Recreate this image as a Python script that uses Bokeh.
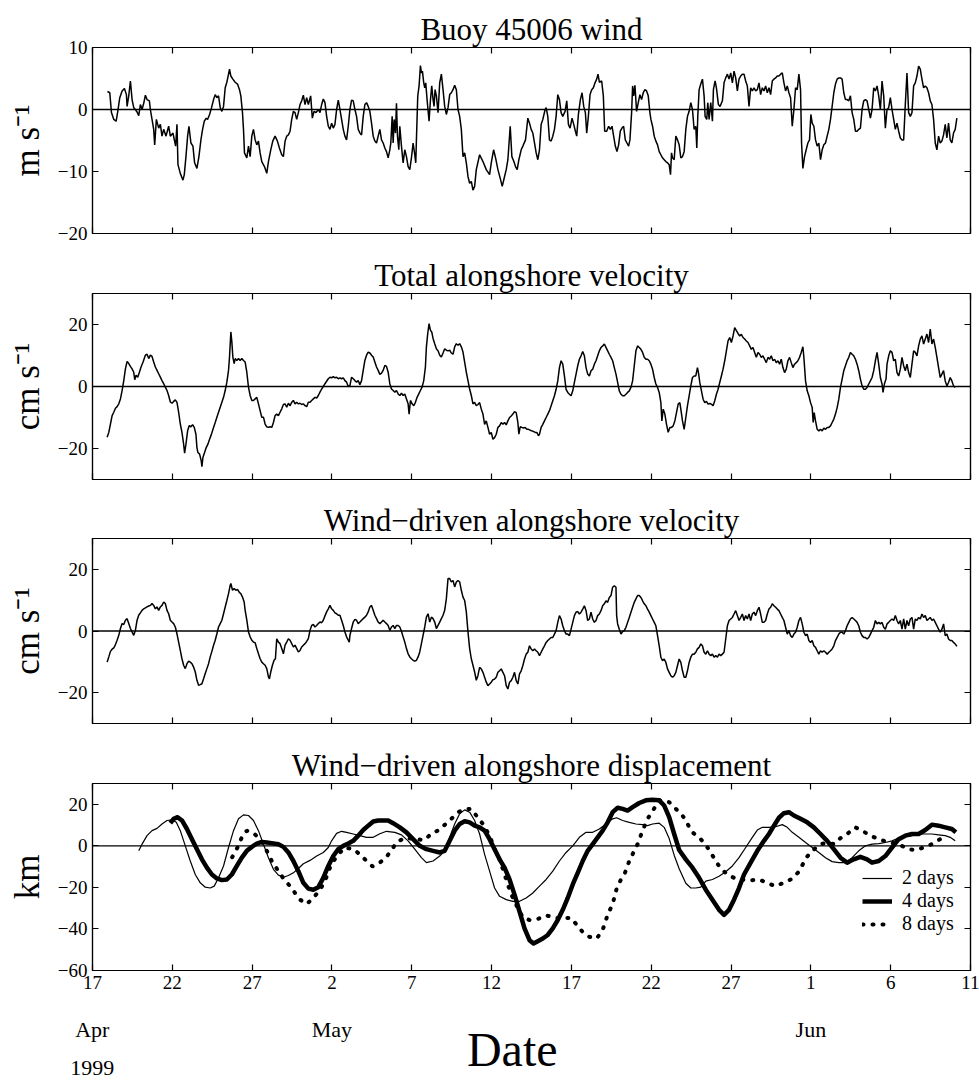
from bokeh.plotting import figure
from bokeh.models import (Range1d, LinearAxis, FixedTicker, Span, Legend,
                          LegendItem, CustomJSTickFormatter)
from bokeh.core.properties import value
from bokeh.layouts import column
from bokeh.embed import file_html
from bokeh.resources import INLINE

SERIF = "Liberation Serif"

# time axis: days since 17 Apr 1999 00:00, ticks every 5 days
day_ticks = [0, 5, 10, 15, 20, 25, 30, 35, 40, 45, 50, 55]
day_labels = ["17", "22", "27", "2", "7", "12", "17", "22", "27", "1", "6", "11"]
month_days = [0, 15, 45]
month_names = ["Apr", "May", "Jun"]
year_text = "1999"

panel_titles = ["Buoy 45006 wind", "Total alongshore velocity",
                "Wind\u2212driven alongshore velocity", "Wind\u2212driven alongshore displacement"]
panel_units = ["m s\u207b\u00b9", "cm s\u207b\u00b9", "cm s\u207b\u00b9", "km"]

# (hours since 17 Apr 00:00, value)
wind_obs = [
    (22.5, 2.9), (26, 2.7), (28.5, -0.5), (32, -1.6), (35.5, -1.9), (38, -0.3), (41, 1.9), (44.5, 3.0), (48, 3.4), (51, 2.4),
    (52, 0.5), (54.5, 2.2), (57, 4.6), (59.5, 1.6), (62, 0.3), (64.5, 0), (67, -0.4), (69.5, -1.0), (72, 0.8), (74.5, 0),
    (77, 1.0), (79.5, 2.3), (82, 1.6), (85.5, 1.4), (87, 0), (89.5, -1.6), (92, -3.2), (93.5, -5.7), (96, -1.6), (99.5, -3.0),
    (102, -2.4), (104.5, -4.3), (107, -3.2), (110.5, -4.3), (114.5, -2.7), (117, -4.3), (121, -3.8), (123, -4.9), (125, -5.9), (127, -2.4),
    (128.5, -8.9), (132, -10.3), (136, -11.4), (138, -10.5), (140.5, -7.6), (143, -4.3), (145, -2.7), (148, -5.4), (151, -5.9), (153.5, -8.6),
    (157, -9.5), (160, -7.6), (163, -4.9), (165.5, -3.2), (168, -1.9), (171, -1.4), (173, -1.6), (176, -0.8), (179, 0.3), (182, 1.6),
    (184.5, 2.4), (187, 1.9), (189.5, 2.2), (192, 0.3), (194.5, -0.3), (197, 0.5), (199.5, 3.5), (202, 4.4), (204.5, 5.7), (206, 6.5),
    (208, 5.4), (211, 4.9), (214.5, 4.4), (218, 4.1), (221, 3.2), (223, 2.2), (225.5, -0.5), (227, -3.2), (228.5, -7.0), (232, -7.8),
    (234.5, -5.9), (237, -7.6), (239.5, -4.3), (242, -3.2), (244.5, -4.9), (247, -5.7), (249.5, -5.1), (252, -7.0), (254.5, -8.4), (258.5, -9.2),
    (262, -10.3), (264.5, -8.4), (268, -6.5), (271, -5.1), (274.5, -4.3), (278, -5.1), (281, -6.2), (284.5, -7.3), (287, -7.6), (289.5, -5.1),
    (292, -4.3), (294.5, -4.1), (297, -3.5), (299.5, -1.6), (302, -0.3), (304.5, -0.5), (307, -1.6), (309.5, -0.5), (312, 0.8), (314.5, 1.4),
    (317, 2.3), (319.5, 0.8), (322, 1.9), (324.5, 0.8), (328, 2.2), (330.5, -1.4), (333, -0.3), (336, -0.5), (339.5, 0), (342, -0.5),
    (344.5, 0.8), (347, 1.7), (349.5, 1.1), (352, -1.1), (354.5, -2.7), (357, -3.2), (359.5, -2.2), (362, -3.0), (364.5, -2.4), (367, 0),
    (369.5, 1.5), (372, 0), (374.5, -1.6), (377, -3.2), (379.5, -4.3), (382, -4.9), (384.5, -2.7), (387, 0), (389.5, 1.5), (392, 1.4),
    (394.5, 0), (397, -1.1), (399.5, -3.2), (402, -3.8), (404.5, -4.1), (407, -1.1), (409.5, 0.8), (412, 1.1), (414.5, 0.5), (417, -0.3),
    (419.5, -2.2), (422, -4.3), (424.5, -5.1), (427, -5.4), (429.5, -4.3), (432, -3.2), (434.5, -4.9), (437, -5.4), (439.5, -6.2), (442, -6.8),
    (444.5, -7.8), (447, -6.5), (448.5, -5.4), (450.5, -1.1), (452, -5.4), (453.5, -1.6), (455.5, -3.8), (457, 1.0), (458.5, -4.3), (460.5, -6.5),
    (462, -2.7), (464.5, -5.9), (467, -8.6), (469.5, -6.5), (472, -7.6), (474.5, -9.2), (477, -9.7), (479.5, -7.8), (482, -5.4), (484.5, -7.3),
    (486, -8.6), (487, -4.9), (489, 2.2), (491, 3.8), (493, 7.1), (494.5, 5.9), (496, 6.2), (498, 4.3), (499.5, 3.5), (501, 4.3),
    (503, 1.6), (506, -1.9), (508, 1.4), (510, 3.8), (512, 1.6), (513.5, 0.5), (515, 3.2), (517, 2.2), (519.5, -0.5), (522, 4.3),
    (524.5, 5.7), (527, 3.2), (529.5, 0.5), (532, -0.8), (534.5, 0.3), (537, 2.4), (539.5, 2.7), (542, 3.2), (544.5, 3.9), (547, 3.2),
    (549.5, 0), (552, -1.1), (554.5, -3.2), (557, -7.6), (559.5, -7.0), (562, -8.6), (564.5, -10.8), (567, -11.9), (569.5, -11.6), (572, -13.0),
    (574.5, -12.4), (577, -9.7), (582, -7.3), (587, -8.4), (592, -9.7), (597, -10.5), (599.5, -8.6), (603, -6.5), (606, -7.8), (609.5, -9.7),
    (613, -11.1), (616, -12.4), (619.5, -10.8), (622, -9.7), (624.5, -8.1), (628, -2.7), (630.5, -7.6), (633.5, -8.4), (636, -9.2), (638.5, -9.7),
    (641, -8.1), (644.5, -6.5), (647, -5.9), (651, -4.9), (654.5, -1.4), (657, -2.2), (659.5, -3.2), (662, -3.8), (664.5, -5.4), (667, -7.0),
    (669.5, -8.1), (672, -6.5), (674.5, -2.4), (677, -1.6), (680.5, 0), (682, 0.3), (684.5, -1.1), (687, -4.9), (689.5, -5.1), (692, -4.3),
    (694.5, -3.2), (697, -1.1), (699.5, 2.4), (702, 1.6), (704.5, -0.5), (707, -1.1), (710.5, -0.3), (713, 1.4), (715.5, -2.4), (718, -3.0),
    (721, -1.4), (723.5, -2.4), (726, -3.5), (728, -4.3), (730.5, -0.8), (733.5, 1.6), (736, 2.7), (738.5, 0.5), (741, -0.5), (743, -3.8),
    (745.5, -1.1), (748, 2.4), (750.5, 3.2), (753, 3.5), (755.5, 4.3), (758, 4.9), (760, 5.7), (762, 4.4), (765.5, 4.6), (768, 2.2),
    (770, -3.5), (773, -3.5), (776, -2.7), (778.5, -3.2), (781, -2.7), (783.5, -4.3), (786, -5.9), (788.5, -6.8), (791, -5.7), (793.5, -3.5),
    (796, -3.0), (798.5, -2.7), (801, -4.9), (803.5, -5.4), (806, -5.9), (808, -4.9), (810.5, -0.5), (812, 3.8), (813.5, 2.2), (815.5, 3.9),
    (818, -0.3), (820.5, 1.1), (823, 2.4), (825.5, 1.6), (828, 2.7), (830.5, 3.2), (833, 3.0), (835.5, 2.2), (838, -0.5), (839.5, -1.6),
    (842, -2.7), (844.5, -4.3), (847, -5.1), (849.5, -5.7), (852, -6.8), (854.5, -7.3), (857, -7.8), (859.5, -8.1), (862, -8.4), (864.5, -8.6),
    (867, -8.9), (869, -10.5), (870.5, -7.0), (872, -7.8), (874.5, -8.1), (877, -4.3), (879.5, -4.9), (882, -5.7), (884.5, -7.8), (887, -7.6),
    (889.5, -6.8), (892, -3.2), (894.5, -1.1), (897, -0.3), (899.5, 1.1), (902, 0), (904.5, -3.2), (907, -2.7), (908.5, -6.2), (910, -1.1),
    (912, 3.2), (914.5, 4.1), (917, 4.9), (919.5, 2.2), (921, -1.1), (923.5, -1.6), (925, 1.1), (927, -1.6), (929.5, 1.1), (932, -1.9),
    (933.5, 3.2), (936, 4.6), (938, 3.5), (941, 0.8), (943.5, 0.5), (947, 1.4), (949.5, 4.3), (952, 5.1), (954.5, 5.7), (957, 4.9),
    (959.5, 5.9), (962, 4.3), (964.5, 6.2), (967, 5.1), (969.5, 3.0), (972, 4.9), (974.5, 5.4), (977, 5.7), (979.5, 5.7), (982, 4.6),
    (984.5, 3.8), (987, 0.5), (989.5, 3.5), (992, 3.0), (994.5, 3.5), (997, 3.0), (999.5, 3.2), (1002, 4.3), (1004.5, 2.4), (1007, 3.5),
    (1009.5, 3.0), (1012, 3.8), (1014.5, 2.7), (1017, 3.5), (1019.5, 2.4), (1022, 4.6), (1024.5, 4.9), (1027, 5.1), (1029.5, 5.4), (1032, 5.4),
    (1034.5, 5.7), (1037, 5.9), (1039.5, 4.3), (1042, 3.0), (1044.5, 3.8), (1047, 2.7), (1049.5, 1.9), (1052, -2.7), (1054.5, 0), (1057, 3.5),
    (1059.5, 3.2), (1062, 5.7), (1064.5, 3.2), (1066, -5.4), (1068, -9.5), (1070.5, -7.6), (1073, -6.5), (1075.5, -5.4), (1078, -4.9), (1080, -0.8),
    (1082, -2.2), (1084.5, -2.7), (1087, -4.9), (1089.5, -5.9), (1092, -5.4), (1094.5, -8.1), (1097, -6.5), (1099.5, -5.7), (1102, -5.4), (1104.5, -4.3),
    (1107, -3.2), (1109.5, -1.6), (1112, 0.5), (1114.5, 2.7), (1117, 4.1), (1119.5, 4.9), (1122, 5.1), (1124.5, 5.1), (1127, 4.9), (1129.5, 2.7),
    (1132, 1.6), (1134.5, 1.6), (1137, 1.4), (1139.5, 2.2), (1142, -0.5), (1144.5, -1.6), (1147, -3.5), (1149.5, -3.5), (1152, -3.2), (1154.5, -3.0),
    (1157, 0), (1159.5, 1.4), (1162, 1.6), (1164.5, 1.4), (1167, 0), (1169.5, -1.4), (1172, 0), (1174.5, 3.5), (1177, 3.0), (1179.5, 3.8),
    (1182, 2.2), (1184.5, 0), (1187, 4.6), (1189.5, 2.2), (1192, -3.0), (1194.5, 0), (1197, 0.3), (1199.5, 1.9), (1202, 0), (1204.5, -1.6),
    (1207, -3.2), (1209.5, -2.2), (1212, -3.5), (1214.5, -4.6), (1217, -4.9), (1219.5, -4.9), (1222, 0.8), (1224.5, 5.9), (1227, -0.5), (1229.5, -1.1),
    (1232, -0.5), (1234.5, 3.8), (1237, 4.3), (1239.5, 5.4), (1242, 7.0), (1244.5, 6.5), (1247, 4.9), (1249.5, 3.5), (1252, 3.8), (1254.5, 3.5),
    (1257, 2.7), (1259.5, 1.4), (1262, 0.8), (1264.5, -1.6), (1267, -5.4), (1269.5, -6.5), (1272, -4.3), (1274.5, -5.4), (1277, -5.1), (1279.5, -4.1),
    (1282, -2.4), (1284.5, -4.6), (1287, -2.2), (1289.5, -4.9), (1292, -5.4), (1294.5, -3.8), (1297, -3.2), (1299.5, -1.4),
]

total_obs = [
    (22, -16.4), (24.5, -14.8), (27, -12.1), (29.5, -9.4), (32, -8.3), (34.5, -7.0), (37, -6.5), (39.5, -5.6), (42, -4.0), (44.5, -1.3),
    (47, 1.9), (49.5, 5.7), (52, 8.1), (54.5, 7.4), (57, 6.5), (59.5, 5.7), (62, 4.6), (63.5, 2.2), (65.5, 3.6), (68, 3.0),
    (70.5, 4.6), (73, 6.3), (76, 7.9), (79.5, 10.1), (82, 10.4), (84.5, 9.0), (87, 10.1), (89.5, 9.7), (92, 7.9), (94.5, 6.3),
    (97, 5.2), (99.5, 4.1), (102, 3.0), (104.5, 1.9), (107, 0.9), (109.5, -0.2), (112, -1.3), (114.5, -2.9), (117, -5.0), (119.5, -5.4),
    (122, -4.8), (124.5, -4.3), (127, -5.1), (129.5, -8.3), (132, -12.1), (134.5, -14.8), (137, -18.6), (138.5, -21.5), (140.5, -18.6), (143, -14.3),
    (145.5, -12.6), (148, -13.0), (150.5, -12.3), (153, -13.2), (155.5, -15.4), (157, -19.7), (158.5, -21.3), (161, -21.8), (163.5, -24.0), (164.5, -25.9),
    (166, -22.9), (168.5, -21.3), (171, -19.7), (173.5, -18.6), (176, -17.0), (178.5, -15.6), (182, -13.2), (184.5, -11.6), (187, -9.9), (189.5, -8.3),
    (192, -6.7), (194.5, -5.1), (197, -3.5), (199.5, -1.3), (202, 1.4), (204.5, 5.2), (206, 9.5), (208, 17.6), (209.5, 14.4), (211, 9.5),
    (213, 7.4), (214.5, 9.0), (217, 8.4), (219.5, 9.0), (222, 8.4), (224.5, 9.0), (227, 8.4), (229.5, 7.9), (232, 4.6), (234.5, -0.2),
    (237, -2.9), (239.5, -4.5), (242, -4.5), (244.5, -4.0), (247, -3.5), (249.5, -5.6), (252, -7.8), (254.5, -9.9), (257, -9.9), (259.5, -12.1),
    (262, -13.0), (264.5, -13.2), (267, -13.0), (269.5, -13.2), (272, -11.6), (274.5, -9.4), (277, -8.9), (279.5, -9.4), (282, -8.3), (284.5, -7.2),
    (287, -5.8), (289.5, -5.6), (292, -6.7), (294.5, -5.4), (297, -6.2), (299.5, -5.1), (302, -4.5), (304.5, -5.6), (307, -5.1), (309.5, -5.6),
    (312, -5.4), (314.5, -5.8), (317, -5.6), (319.5, -6.2), (322, -6.5), (324.5, -5.1), (327, -5.1), (329.5, -4.5), (332, -4.0), (334.5, -3.5),
    (337, -3.7), (339.5, -2.9), (342, -1.8), (344.5, -0.8), (347, 0), (349.5, 0.9), (352, 1.7), (354.5, 2.5), (357, 3.0), (359.5, 2.8),
    (362, 3.2), (364.5, 2.8), (367, 3.0), (369.5, 2.5), (372, 2.8), (374.5, 2.5), (377, 2.8), (379.5, 1.9), (382, 1.4), (384.5, 0),
    (387, 0.3), (389.5, 3.0), (392, 2.5), (394.5, 1.9), (397, 1.4), (399.5, 1.9), (402, 0.6), (404.5, 1.9), (407, 5.2), (409.5, 8.4),
    (412, 10.1), (414.5, 11.1), (417, 10.8), (419.5, 10.1), (422, 9.5), (424.5, 7.9), (427, 6.3), (429.5, 5.2), (432, 3.9), (434.5, 4.3),
    (437, 5.2), (439.5, 6.8), (442, 6.5), (444.5, 4.6), (447, 0.9), (449.5, -0.8), (452, -1.3), (454.5, -1.8), (457, -1.3), (459.5, -2.4),
    (462, -2.9), (464.5, -2.2), (467, -2.9), (469.5, -2.4), (472, -4.0), (474.5, -5.6), (476, -8.9), (478, -4.5), (480.5, -5.6), (483, -6.2),
    (485.5, -5.1), (488, -3.5), (490.5, -2.4), (493, -1.3), (495.5, -0.2), (498, 1.9), (500.5, 6.3), (502, 12.8), (504, 17.1), (506, 20.3),
    (508, 18.2), (510, 17.6), (512, 15.5), (514.5, 13.8), (517, 12.2), (519.5, 11.5), (522, 10.1), (524.5, 9.5), (527, 10.8), (529.5, 12.2),
    (532, 11.7), (534.5, 11.5), (537, 11.7), (539.5, 10.8), (542, 10.4), (544.5, 12.8), (547, 13.8), (549.5, 13.3), (552, 13.8), (554.5, 12.8),
    (557, 11.1), (559.5, 7.9), (562, 4.6), (564.5, 1.9), (567, -0.8), (569.5, -2.9), (572, -5.6), (574.5, -5.1), (577, -6.2), (579.5, -5.8),
    (582, -5.2), (584.5, -7.3), (587, -8.9), (589.5, -12.2), (592, -11.1), (594.5, -13.2), (597, -15.4), (599.5, -14.8), (602, -17.0), (604.5, -16.5),
    (607, -15.4), (609.5, -13.2), (612, -12.7), (614.5, -11.6), (617, -12.2), (619.5, -11.6), (622, -12.4), (624.5, -11.1), (627, -10.0), (629.5, -9.5),
    (632, -8.9), (634.5, -8.1), (637, -8.4), (639.5, -11.6), (641, -15.4), (643, -13.0), (645.5, -13.2), (648, -13.4), (650.5, -13.2), (653, -13.8),
    (655.5, -13.8), (658, -14.1), (660.5, -14.3), (663, -14.5), (665.5, -14.8), (668, -14.8), (670.5, -15.9), (672, -15.4), (674.5, -13.2), (677, -12.2),
    (679.5, -11.1), (682, -10.0), (684.5, -8.9), (687, -7.8), (689.5, -6.2), (692, -4.6), (694.5, -3.0), (697, -0.9), (699.5, 1.8), (702, 6.1),
    (704.5, 8.3), (707, 7.2), (709.5, 3.4), (712, -0.9), (714.5, -1.9), (717, -2.5), (719.5, -3.0), (722, -1.4), (724.5, 1.3), (727, 4.0),
    (729.5, 6.7), (732, 8.8), (734.5, 9.9), (737, 11.3), (739.5, 9.9), (742, 6.1), (744.5, 4.0), (747, 3.4), (749.5, 5.1), (752, 5.6),
    (754.5, 7.2), (757, 8.3), (759.5, 9.9), (762, 11.5), (764.5, 12.6), (767, 13.1), (769.5, 13.7), (772, 12.6), (774.5, 11.5), (777, 10.4),
    (779.5, 9.4), (782, 8.3), (784.5, 6.1), (787, 4.0), (789.5, 1.3), (792, -1.4), (794.5, -2.5), (797, -3.0), (799.5, -3.0), (802, -2.5),
    (804.5, -1.9), (807, -1.4), (809.5, -0.3), (812, 1.8), (814.5, 6.7), (817, 11.5), (819.5, 13.1), (822, 12.6), (824.5, 12.0), (827, 11.0),
    (829.5, 9.4), (832, 8.8), (834.5, 8.8), (837, 8.3), (839.5, 7.2), (842, 5.6), (844.5, 2.9), (847, 0.8), (849.5, -0.3), (852, -1.9),
    (854.5, -5.2), (856, -11.1), (858, -7.3), (860.5, -8.9), (863, -12.2), (865.5, -14.8), (868, -13.2), (870.5, -13.2), (873, -12.7), (875.5, -11.1),
    (878, -8.4), (880.5, -5.7), (883, -5.2), (884.5, -7.3), (887, -11.1), (889.5, -13.8), (892, -10.0), (894.5, -6.2), (897, -3.0), (899.5, 0.2),
    (902, 2.9), (904.5, 3.4), (907, 3.4), (909.5, 6.1), (911, 4.5), (913, 1.3), (915.5, -1.4), (918, -4.1), (920.5, -5.2), (923, -4.8),
    (925.5, -5.7), (928, -5.5), (930.5, -5.7), (933, -6.2), (935.5, -4.6), (938, -2.5), (940.5, -0.9), (943, 1.3), (945.5, 3.4), (948, 5.6),
    (950.5, 8.3), (953, 11.5), (955.5, 14.7), (958, 15.8), (960.5, 14.2), (963, 16.3), (965.5, 19.0), (968, 18.0), (970.5, 17.1), (973, 16.3),
    (975.5, 16.8), (978, 15.8), (980.5, 15.3), (983, 14.7), (985.5, 14.2), (988, 13.1), (990.5, 12.0), (993, 12.6), (995.5, 11.0), (998, 9.4),
    (1000.5, 11.0), (1003, 10.4), (1005.5, 9.4), (1008, 9.9), (1010.5, 8.8), (1013, 7.7), (1015.5, 9.4), (1018, 8.8), (1020.5, 9.9), (1023, 8.3),
    (1025.5, 8.8), (1028, 7.7), (1030.5, 8.3), (1033, 7.2), (1035.5, 8.8), (1038, 6.1), (1040.5, 4.5), (1043, 5.6), (1045.5, 8.3), (1048, 9.4),
    (1050.5, 7.7), (1053, 6.1), (1055.5, 7.2), (1058, 7.7), (1060.5, 8.3), (1063, 9.4), (1065.5, 11.0), (1068, 12.8), (1069.5, 9.4), (1072, 1.8),
    (1074.5, -1.4), (1077, -3.0), (1079.5, -5.2), (1082, -6.8), (1083.5, -11.6), (1085, -8.4), (1087, -11.1), (1089.5, -13.8), (1092, -14.3), (1094.5, -13.8),
    (1097, -14.3), (1099.5, -13.4), (1102, -13.8), (1104.5, -13.2), (1107, -13.2), (1109.5, -12.7), (1112, -11.6), (1114.5, -10.5), (1117, -8.9), (1119.5, -6.8),
    (1122, -4.1), (1124.5, -0.3), (1127, 2.4), (1129.5, 5.1), (1132, 6.7), (1134.5, 8.3), (1137, 9.4), (1139.5, 11.0), (1142, 10.4), (1144.5, 9.9),
    (1147, 8.8), (1149.5, 7.2), (1152, 5.1), (1154.5, 2.4), (1157, 0.2), (1159.5, -0.9), (1162, -0.9), (1164.5, -0.3), (1167, 0.8), (1169.5, 1.8),
    (1172, 2.9), (1174.5, 5.1), (1177, 8.3), (1179.5, 11.0), (1182, 7.2), (1184.5, 2.9), (1187, 0.8), (1188.5, -1.9), (1190.5, 0.8), (1193, 2.4),
    (1194.5, 7.2), (1197, 9.9), (1199.5, 11.5), (1202, 11.0), (1204.5, 8.3), (1207, 8.8), (1209.5, 4.5), (1212, 3.4), (1214.5, 5.6), (1217, 9.4),
    (1219.5, 6.7), (1222, 5.1), (1224.5, 7.2), (1227, 4.5), (1229.5, 2.9), (1232, 7.2), (1234.5, 11.5), (1237, 11.0), (1239.5, 9.9), (1242, 13.1),
    (1244.5, 15.3), (1247, 16.3), (1249.5, 13.7), (1252, 15.3), (1254.5, 16.9), (1257, 14.2), (1259.5, 18.5), (1262, 13.7), (1264.5, 15.3), (1267, 12.6),
    (1269.5, 9.4), (1272, 6.1), (1274.5, 2.9), (1277, 4.0), (1279.5, 5.1), (1282, 1.8), (1284.5, 0.2), (1287, 1.3), (1289.5, 2.9), (1292, 1.8),
    (1294.5, 0.2), (1297, -0.3),
]

driven_obs = [
    (22, -10.1), (24.5, -8.4), (27, -6.6), (29.5, -5.9), (32, -5.5), (34.5, -4.4), (37, -3.0), (39.5, -1.4), (42, 0.8), (44.5, 2.4),
    (47, 2.1), (49.5, 3.5), (52, 4.0), (54.5, 2.4), (57, 0.8), (59.5, -0.3), (62, -1.4), (64.5, 0.2), (67, 3.5), (69.5, 5.1),
    (72, 5.9), (74.5, 6.7), (77, 7.2), (79.5, 7.5), (82, 7.8), (84.5, 8.1), (87, 8.3), (89.5, 8.9), (92, 8.3), (94.5, 7.2),
    (97, 7.8), (99.5, 6.7), (102, 7.8), (104.5, 8.3), (107, 9.4), (109.5, 8.9), (112, 6.7), (114.5, 5.6), (117, 3.5), (119.5, 2.9),
    (122, 2.4), (124.5, 1.3), (127, -0.9), (129.5, -3.6), (132, -6.3), (134.5, -9.0), (137, -11.1), (139.5, -12.2), (142, -10.6), (144.5, -9.8),
    (147, -10.1), (149.5, -10.6), (152, -11.7), (154.5, -13.3), (157, -16.0), (159.5, -17.6), (162, -17.4), (164.5, -17.1), (167, -15.5), (169.5, -13.8),
    (172, -12.2), (174.5, -10.6), (177, -8.4), (179.5, -6.6), (182, -4.6), (184.5, -3.0), (187, -0.9), (189.5, 1.3), (192, 2.4), (194.5, 3.5),
    (197, 5.6), (199.5, 7.8), (202, 9.9), (204.5, 12.1), (207, 14.8), (208, 15.4), (210.5, 13.2), (213, 13.8), (215.5, 13.2), (218, 13.5),
    (220.5, 12.6), (223, 12.1), (225.5, 11.0), (228, 9.4), (229.5, 6.7), (232, 3.5), (234.5, -0.3), (237, -1.9), (239.5, -3.0), (242, -3.6),
    (244.5, -3.8), (247, -5.7), (249.5, -7.4), (252, -9.0), (254.5, -10.1), (257, -10.6), (259.5, -11.1), (262, -12.2), (264.5, -14.9), (266, -15.5),
    (268, -13.3), (270.5, -11.1), (273, -9.5), (275, -9.0), (277, -2.5), (279.5, -3.6), (282, -4.1), (284.5, -5.7), (287, -7.4), (289.5, -4.6),
    (292, -3.6), (294.5, -2.5), (297, -3.0), (299.5, -4.1), (302, -5.2), (304.5, -4.6), (307, -5.7), (309.5, -6.8), (312, -6.3), (314.5, -5.2),
    (317, -4.6), (319.5, -4.1), (322, -3.4), (324.5, -2.5), (327, 0.2), (329.5, 1.8), (332, 2.1), (334.5, 1.3), (337, 1.8), (339.5, 2.4),
    (342, 2.9), (344.5, 2.7), (347, 3.5), (349.5, 4.9), (352, 6.2), (354.5, 7.2), (357, 8.3), (359.5, 7.2), (362, 6.7), (364.5, 5.9),
    (367, 5.6), (369.5, 5.1), (372, 5.1), (374.5, 3.5), (377, 1.8), (379.5, -0.3), (382, -1.9), (384.5, -3.0), (386, -3.6), (387, -1.4),
    (389.5, 0.8), (392, 2.9), (394.5, 3.8), (397, 3.5), (399.5, 2.4), (402, 2.9), (404.5, 3.5), (407, 4.0), (409.5, 4.5), (412, 5.1),
    (414.5, 6.2), (417, 7.8), (419.5, 8.3), (422, 6.7), (424.5, 5.1), (427, 4.0), (429.5, 2.9), (432, 2.4), (434.5, 2.9), (437, 3.5),
    (439.5, 2.9), (442, 2.4), (444.5, 1.8), (447, 0.2), (449.5, 1.3), (452, 1.8), (454.5, 0.8), (457, 1.8), (459.5, 1.8), (462, 1.3),
    (464.5, -0.1), (467, -1.9), (469.5, -3.6), (472, -5.7), (474.5, -7.4), (477, -8.4), (479.5, -9.0), (482, -9.5), (484.5, -9.8), (487, -9.5),
    (489.5, -8.4), (492, -6.8), (494.5, -4.1), (497, -1.4), (499.5, 1.3), (502, 4.5), (504.5, 5.6), (507, 2.9), (509.5, 4.5), (512, 4.0),
    (514.5, 2.9), (517, 0.8), (519.5, 1.8), (522, 2.9), (524.5, 4.0), (527, 5.1), (529.5, 6.7), (532, 10.5), (534.5, 17.0), (537, 17.0),
    (539.5, 15.9), (542, 16.4), (544.5, 14.3), (547, 15.9), (549.5, 16.4), (552, 15.9), (554.5, 13.2), (557, 11.0), (559.5, 9.9), (562, 6.2),
    (564.5, -0.3), (567, -5.7), (569.5, -9.0), (572, -11.1), (574.5, -13.3), (577, -16.0), (579.5, -14.4), (582, -11.8), (584.5, -12.3), (587, -13.4),
    (589.5, -15.0), (592, -16.6), (594.5, -17.7), (597, -17.2), (599.5, -16.6), (602, -15.8), (604.5, -15.6), (607, -15.0), (609.5, -13.4), (612, -12.9),
    (614.5, -12.3), (617, -13.4), (619.5, -14.5), (622, -17.7), (624.5, -18.8), (627, -16.6), (629.5, -16.1), (632, -15.0), (634.5, -13.4), (637, -16.1),
    (639.5, -17.2), (642, -13.9), (644.5, -12.9), (647, -11.2), (649.5, -9.1), (652, -7.5), (654.5, -6.9), (657, -4.8), (659.5, -5.8), (662, -6.4),
    (664.5, -5.8), (667, -6.4), (669.5, -6.9), (672, -8.0), (674.5, -6.9), (677, -5.8), (679.5, -4.8), (682, -3.7), (684.5, -3.1), (687, -2.6),
    (689.5, -2.1), (692, -2.1), (694.5, -1.0), (697, 0.1), (699.5, 2.8), (702, 5.0), (704.5, 3.9), (707, 1.7), (709.5, 0.1), (712, -1.0),
    (714.5, -1.0), (717, -1.5), (719.5, 0.6), (722, 2.8), (724.5, 5.0), (727, 6.1), (729.5, 6.3), (732, 5.5), (734.5, 6.1), (737, 7.1),
    (739.5, 8.2), (742, 6.6), (744.5, 3.4), (747, 3.9), (749.5, 6.1), (752, 3.9), (754.5, 2.8), (757, 3.4), (759.5, 5.0), (762, 5.5),
    (764.5, 6.6), (767, 8.2), (769.5, 8.8), (772, 9.8), (774.5, 9.3), (777, 10.9), (779.5, 11.5), (782, 14.2), (784.5, 14.7), (787, 14.2),
    (788, 5.0), (789.5, 2.3), (792, 0.6), (794.5, -1.0), (797, -0.2), (799.5, 0.1), (802, 1.2), (804.5, 2.8), (807, 4.4), (809.5, 6.1),
    (812, 7.7), (814.5, 9.3), (817, 10.4), (819.5, 11.5), (822, 11.5), (824.5, 10.9), (827, 9.8), (829.5, 8.8), (832, 8.2), (834.5, 7.1),
    (837, 6.1), (839.5, 5.0), (842, 3.9), (844.5, 2.8), (847, 1.7), (849.5, -1.5), (852, -4.8), (854.5, -8.5), (857, -9.6), (859.5, -9.1),
    (862, -10.2), (864.5, -12.3), (867, -13.4), (869.5, -14.5), (872, -15.0), (874.5, -14.5), (877, -13.4), (879.5, -11.2), (882, -9.1), (884.5, -10.2),
    (887, -12.9), (889.5, -15.0), (892, -15.0), (894.5, -12.9), (897, -10.2), (899.5, -8.5), (902, -7.5), (904.5, -7.5), (907, -6.9), (909.5, -5.8),
    (912, -5.3), (914.5, -4.2), (917, -4.8), (919.5, -6.9), (922, -7.5), (924.5, -6.4), (927, -7.5), (929.5, -8.0), (932, -7.5), (934.5, -8.5),
    (937, -8.0), (939.5, -8.5), (942, -7.5), (944.5, -8.0), (947, -7.5), (949.5, -6.9), (952, -2.6), (954.5, 1.7), (957, 3.4), (959.5, 3.9),
    (962, 4.4), (964.5, 5.5), (967, 6.6), (969.5, 5.0), (972, 3.4), (974.5, 4.4), (977, 5.5), (979.5, 3.4), (982, 5.0), (984.5, 3.9),
    (987, 5.5), (989.5, 3.4), (992, 5.5), (994.5, 6.1), (997, 5.0), (999.5, 6.6), (1002, 7.7), (1004.5, 5.5), (1007, 2.8), (1009.5, 2.8),
    (1012, 3.4), (1014.5, 5.5), (1017, 7.1), (1019.5, 7.7), (1022, 8.8), (1024.5, 8.2), (1027, 7.7), (1029.5, 7.1), (1032, 6.6), (1034.5, 5.5),
    (1037, 4.4), (1039.5, 3.4), (1042, 1.2), (1044.5, -1.0), (1047, 0.1), (1049.5, -1.5), (1052, -2.1), (1054.5, -1.0), (1057, -0.4), (1059.5, 1.2),
    (1062, 3.4), (1064.5, 4.4), (1067, 2.3), (1069.5, -0.4), (1072, -1.5), (1074.5, -1.0), (1077, -3.1), (1079.5, -3.7), (1082, -3.1), (1084.5, -4.8),
    (1087, -5.3), (1089.5, -6.4), (1092, -7.5), (1094.5, -6.4), (1097, -6.9), (1099.5, -6.4), (1102, -6.9), (1104.5, -7.5), (1107, -6.9), (1109.5, -6.4),
    (1112, -5.8), (1114.5, -4.8), (1117, -3.1), (1119.5, -2.1), (1122, -1.0), (1124.5, -0.4), (1127, -0.4), (1129.5, -1.0), (1132, 0.1), (1134.5, 1.7),
    (1137, 2.8), (1139.5, 3.9), (1142, 4.4), (1144.5, 3.9), (1147, 3.4), (1149.5, 2.8), (1152, 1.7), (1154.5, -0.4), (1157, -1.5), (1159.5, -2.1),
    (1162, -2.1), (1164.5, -2.6), (1167, -2.1), (1169.5, -1.0), (1172, 0.1), (1174.5, 1.2), (1177, 3.4), (1179.5, 2.3), (1182, 2.8), (1184.5, 2.3),
    (1187, 2.8), (1189.5, 1.2), (1192, 0.6), (1194.5, 2.3), (1197, 2.8), (1199.5, 3.4), (1202, 3.9), (1204.5, 3.4), (1207, 5.0), (1209.5, 3.4),
    (1212, 2.3), (1214.5, 3.4), (1217, 0.6), (1219.5, 3.9), (1222, 0.6), (1224.5, 3.4), (1227, 1.7), (1229.5, 3.9), (1232, 4.4), (1234.5, 0.6),
    (1237, 3.9), (1239.5, 3.4), (1242, 4.4), (1244.5, 3.9), (1247, 5.5), (1249.5, 4.4), (1252, 5.0), (1254.5, 3.4), (1257, 3.9), (1259.5, 4.4),
    (1262, 3.4), (1264.5, 3.9), (1267, 2.8), (1269.5, 1.7), (1272, 0.6), (1274.5, -0.4), (1277, 0.6), (1279.5, 2.3), (1282, -1.5), (1284.5, -1.0),
    (1287, -2.6), (1289.5, -3.1), (1292, -3.1), (1294.5, -3.7), (1297, -4.2), (1299.5, -5.0),
]

disp2_obs = [
    (69.5, -2.4), (74.5, 0.8), (82, 4.9), (89.5, 7.3), (97, 8.4), (104.5, 10.5), (112, 12.2), (119.5, 12.5), (126, 11.3), (132, 7.3),
    (139.5, 0), (147, -7.3), (154.5, -13.8), (162, -17.8), (169.5, -19.9), (177, -20.3), (183, -19.4), (189.5, -15.4), (197, -9.7), (204.5, -0.8),
    (212, 7.3), (219.5, 13.0), (227, 14.9), (234.5, 14.6), (242, 12.2), (249.5, 7.3), (257, 0.8), (264.5, -5.7), (272, -11.3), (279.5, -14.1),
    (287, -15.1), (294.5, -14.3), (302, -13.0), (309.5, -10.9), (317, -8.6), (327, -7.0), (337, -4.9), (347, -3.2), (354.5, -0.8), (359.5, 2.4),
    (367, 6.0), (374.5, 7.0), (382, 6.5), (392, 5.7), (402, 4.9), (412, 4.1), (422, 4.1), (432, 5.8), (442, 7.0), (454.5, 6.5),
    (464.5, 5.3), (474.5, 2.4), (484.5, -1.6), (494.5, -5.7), (502, -8.1), (512, -7.3), (522, -4.9), (529.5, -2.4), (537, 4.1), (544.5, 10.5),
    (552, 15.4), (559.5, 17.3), (567, 16.2), (574.5, 12.2), (582, 5.7), (589.5, -4.1), (597, -12.2), (604.5, -20.3), (612, -24.3), (622, -25.9),
    (632, -26.7), (642, -26.7), (652, -25.1), (662, -22.7), (672, -19.4), (682, -16.2), (692, -12.2), (702, -7.3), (712, -3.2), (722, 0),
    (732, 4.1), (742, 6.5), (752, 6.5), (762, 8.1), (772, 10.5), (782, 13.0), (788, 13.5), (797, 12.2), (807, 11.3), (817, 10.5),
    (827, 10.2), (834.5, 9.7), (842, 10.5), (852, 10.9), (859.5, 8.9), (867, 3.5), (874.5, -4.5), (882, -11.0), (892, -18.0), (899.5, -20.3),
    (907, -20.3), (914.5, -19.9), (922, -17.0), (932, -16.2), (942, -14.6), (952, -12.5), (962, -9.7), (972, -5.7), (982, -0.8), (992, 4.1),
    (999.5, 7.6), (1007, 8.9), (1017, 8.9), (1027, 9.2), (1037, 10.2), (1044.5, 8.9), (1052, 6.5), (1062, 4.1), (1072, 1.6), (1082, -0.8),
    (1092, -3.2), (1102, -5.7), (1112, -7.6), (1122, -8.1), (1132, -8.1), (1142, -5.7), (1152, -2.4), (1162, 0), (1172, 0.8), (1182, 1.1),
    (1192, 1.6), (1202, 2.4), (1212, 3.7), (1222, 4.4), (1232, 4.9), (1242, 5.7), (1252, 5.7), (1262, 5.7), (1272, 5.3), (1282, 4.9),
    (1289.5, 4.1), (1297, 2.4),
]

disp4_obs = [
    (117, 10.9), (122, 13.0), (128, 13.8), (134.5, 12.2), (142, 8.1), (149.5, 3.2), (157, -1.6), (164.5, -6.5), (172, -10.5), (179.5, -13.8),
    (187, -15.7), (194.5, -16.5), (202, -16.2), (209.5, -13.8), (217, -9.7), (224.5, -5.7), (232, -2.4), (239.5, -0.5), (247, 1.1), (254.5, 1.9),
    (262, 1.6), (269.5, 1.3), (279.5, 0.8), (287, -0.5), (294.5, -3.2), (302, -7.3), (309.5, -12.2), (317, -17.8), (324.5, -20.6), (332, -21.1),
    (339.5, -19.9), (347, -15.4), (354.5, -9.7), (362, -4.9), (369.5, -1.6), (377, 0), (384.5, 1.1), (392, 2.4), (399.5, 4.9), (407, 7.6),
    (414.5, 9.7), (422, 11.7), (429.5, 12.2), (437, 12.2), (444.5, 12.2), (452, 10.9), (462, 8.9), (472, 6.5), (482, 3.2), (492, 0),
    (502, -1.6), (512, -2.4), (522, -3.2), (529.5, -2.4), (537, 2.4), (544.5, 7.3), (552, 10.5), (559.5, 11.8), (567, 11.3), (574.5, 9.7),
    (582, 8.9), (589.5, 7.3), (597, 3.2), (604.5, -1.6), (612, -6.5), (619.5, -10.5), (627, -16.2), (634.5, -23.5), (642, -31.6), (649.5, -39.7),
    (657, -45.4), (663, -47.0), (669.5, -45.9), (677, -44.6), (684.5, -42.9), (692, -39.7), (699.5, -35.7), (707, -30.8), (714.5, -25.1), (722, -18.6),
    (729.5, -13.0), (737, -7.3), (744.5, -2.4), (752, 0.8), (759.5, 4.1), (767, 7.3), (774.5, 11.3), (782, 16.2), (789.5, 18.3), (797, 17.8),
    (804.5, 17.0), (812, 18.6), (822, 20.6), (832, 21.9), (842, 22.2), (852, 21.9), (859.5, 19.4), (867, 13.8), (874.5, 5.7), (882, -2.0),
    (892, -6.5), (902, -10.5), (912, -15.4), (922, -21.1), (932, -25.9), (942, -30.8), (949.5, -33.2), (957, -30.8), (964.5, -25.9), (972, -20.3),
    (979.5, -13.8), (989.5, -8.1), (999.5, -2.4), (1009.5, 2.4), (1017, 5.7), (1024.5, 9.7), (1032, 13.5), (1039.5, 15.7), (1047, 16.2), (1054.5, 14.6),
    (1064.5, 13.0), (1074.5, 11.3), (1084.5, 8.9), (1094.5, 5.7), (1104.5, 2.4), (1114.5, -1.6), (1124.5, -5.7), (1134.5, -8.1), (1144.5, -6.5), (1154.5, -5.3),
    (1164.5, -6.5), (1172, -8.1), (1182, -7.3), (1192, -4.9), (1202, -0.8), (1212, 3.2), (1222, 4.9), (1232, 5.7), (1242, 5.7), (1252, 7.6),
    (1262, 10.2), (1272, 9.7), (1282, 8.9), (1292, 8.1), (1298, 6.5),
]

disp8_obs = [
    (210, -5.5), (218.5, -0.5), (225, 4.5), (232, 7.3), (242, 6.2), (253, 2.8), (262, -2.4), (269.5, -7.3), (279.5, -12.2), (287, -15.7),
    (297, -19.4), (304.5, -22.7), (312, -25.9), (322, -28.0), (332, -25.1), (342, -21.1), (349.5, -17.0), (357, -10.5), (367, -4.9), (379.5, -0.8),
    (392, -1.6), (402, -4.1), (412, -7.3), (421, -9.9), (432, -8.1), (442, -5.3), (449.5, -2.1), (457, 1.6), (470, 4.0), (485, 3.2),
    (499.5, 2.8), (509.5, 5.9), (521, 7.6), (539.5, 13.0), (549.5, 16.2), (559, 17.5), (569.5, 17.8), (577, 14.6), (587, 10.5), (597, 4.9),
    (604.5, -1.6), (612, -6.5), (617, -11.3), (622, -16.2), (627, -21.1), (632, -25.1), (639.5, -30.0), (647, -34.5), (657, -35.7), (669.5, -35.2),
    (682, -33.5), (697, -34.7), (719.5, -34.7), (729.5, -38.6), (737, -41.5), (747, -43.8), (758, -44.6), (767, -40.5), (774.5, -33.2), (782, -28.0),
    (788, -20.6), (794.5, -16.2), (800.5, -13.0), (807, -7.3), (814.5, -2.4), (819.5, 0.8), (827, 7.3), (834.5, 13.0), (841, 16.2), (852, 21.9),
    (867, 21.0), (877, 17.8), (887, 14.6), (902, 6.5), (914.5, 3.2), (922, 0.5), (929.5, -3.2), (937, -7.3), (944.5, -10.9), (954.5, -13.8),
    (964.5, -15.4), (974.5, -16.2), (987, -16.7), (1002, -16.2), (1014.5, -17.8), (1026, -19.4), (1039.5, -17.8), (1049.5, -16.2), (1062, -12.5), (1073, -5.7),
    (1082, -2.4), (1094.5, 0.8), (1105, 1.5), (1115.5, 0.8), (1124.5, 3.7), (1134.5, 5.7), (1147, 8.9), (1157, 7.3), (1169.5, 4.9), (1182, 3.2),
    (1194.5, 1.9), (1212, 0.8), (1226, -1.6), (1237, -2.1), (1249.5, -0.8), (1262, 0.8), (1272, 2.8), (1284.5, 4.9),
]


def to_days(obs):
    return [h / 24.0 for h, _ in obs], [v for _, v in obs]


def blank():
    return CustomJSTickFormatter(code="return ''")


def tick_text(v):
    return str(v).replace("-", "\u2212")


def make_panel(title, unit, ylo, yhi, yticks, height, top, bottom, xlabels):
    p = figure(width=979, height=height, x_range=Range1d(0, 55), y_range=Range1d(ylo, yhi),
               output_backend="svg", toolbar_location=None, title=title,
               min_border_left=92, min_border_right=9, min_border_top=top, min_border_bottom=bottom)
    p.grid.visible = False
    p.outline_line_color = "black"
    p.outline_line_width = 1.2
    p.background_fill_color = "white"
    p.border_fill_color = "white"

    p.title.text_font = SERIF
    p.title.text_font_size = "31px"
    p.title.text_font_style = "normal"
    p.title.text_color = "black"
    p.title.align = "center"
    p.title.standoff = 2

    def style(ax, ticks):
        ax.ticker = FixedTicker(ticks=ticks)
        ax.major_tick_in = 6
        ax.major_tick_out = 0
        ax.minor_tick_line_color = None
        ax.axis_line_color = "black"
        ax.axis_line_width = 1.2
        ax.major_tick_line_color = "black"
        ax.major_tick_line_width = 1.2

    xb = p.xaxis[0]
    style(xb, day_ticks)
    if xlabels:
        xb.major_label_overrides = {t: s for t, s in zip(day_ticks, day_labels)}
        xb.major_label_text_font = SERIF
        xb.major_label_text_font_size = "19px"
        xb.major_label_text_color = "black"
        xb.major_label_standoff = 5
    else:
        xb.formatter = blank()
        xb.major_label_text_font_size = "0px"
        xb.major_label_standoff = 0

    yl = p.yaxis[0]
    style(yl, yticks)
    yl.major_label_overrides = {t: tick_text(t) for t in yticks}
    yl.major_label_text_font = SERIF
    yl.major_label_text_font_size = "19px"
    yl.major_label_text_color = "black"
    yl.major_label_standoff = 5
    yl.axis_label = unit
    yl.axis_label_text_font = SERIF
    yl.axis_label_text_font_size = "35px"
    yl.axis_label_text_font_style = "normal"
    yl.axis_label_text_color = "black"
    yl.axis_label_standoff = 8

    xt = LinearAxis(formatter=blank())
    style(xt, day_ticks)
    xt.major_label_text_font_size = "0px"
    xt.major_label_standoff = 0
    p.add_layout(xt, "above")

    yr = LinearAxis(formatter=blank())
    style(yr, yticks)
    yr.major_label_text_font_size = "0px"
    yr.major_label_standoff = 0
    p.add_layout(yr, "right")

    p.add_layout(Span(location=0, dimension="width", line_color="black", line_width=1.3))
    return p


p1 = make_panel(panel_titles[0], panel_units[0], -20, 10, [-20, -10, 0, 10], 245, 47, 12, False)
x, y = to_days(wind_obs)
p1.line(x, y, line_color="black", line_width=1.5)

p2 = make_panel(panel_titles[1], panel_units[1], -30, 30, [-20, 0, 20], 246, 48, 12, False)
x, y = to_days(total_obs)
p2.line(x, y, line_color="black", line_width=1.5)

p3 = make_panel(panel_titles[2], panel_units[2], -30, 30, [-20, 0, 20], 244, 47, 12, False)
x, y = to_days(driven_obs)
p3.line(x, y, line_color="black", line_width=1.5)

p4 = make_panel(panel_titles[3], panel_units[3], -60, 30, [-60, -40, -20, 0, 20], 263, 48, 28, True)
x, y = to_days(disp2_obs)
r2 = p4.line(x, y, line_color="black", line_width=1.2)
x, y = to_days(disp4_obs)
r4 = p4.line(x, y, line_color="black", line_width=4.5, line_join="round")
x, y = to_days(disp8_obs)
r8 = p4.line(x, y, line_color="black", line_width=4, line_dash="1 9", line_cap="round")

legend = Legend(items=[LegendItem(label="2 days", renderers=[r2]),
                       LegendItem(label="4 days", renderers=[r4]),
                       LegendItem(label="8 days", renderers=[r8])],
                location=(760, 25), orientation="vertical",
                label_text_font=SERIF, label_text_font_size="20px", label_text_color="black",
                glyph_width=30, glyph_height=20, label_height=20, label_standoff=10,
                spacing=0, padding=10, border_line_alpha=0, background_fill_alpha=0)
p4.add_layout(legend)

# caption strip under the last panel: full-width frame on the same day scale as the panels
# (left canvas edge is 92 px = 5.75 days before 17 Apr, right edge 9 px past 11 Jun)
cap = figure(width=979, height=82, x_range=Range1d(-92 / 16, 55 + 9 / 16), y_range=Range1d(0, 82),
             output_backend="svg", toolbar_location=None, x_axis_type=None, y_axis_type=None,
             min_border_left=0, min_border_right=0, min_border_top=0, min_border_bottom=0)
cap.frame_align = False
cap.outline_line_color = None
cap.background_fill_color = "white"
cap.border_fill_color = "white"
cap.text(x=month_days, y=[51] * len(month_days), text=month_names, text_align="center",
         text_baseline="alphabetic", text_font=value(SERIF), text_font_size="22px", text_color="black")
cap.text(x=[0], y=[13], text=[year_text], text_align="center", text_baseline="alphabetic",
         text_font=value(SERIF), text_font_size="22px", text_color="black")
cap.text(x=[26.3], y=[31], text=["Date"], text_align="center", text_baseline="alphabetic",
         text_font=value(SERIF), text_font_size="48px", text_color="black")

page = column(p1, p2, p3, p4, cap, spacing=0)
open("out.html", "w").write(file_html(page, INLINE))
